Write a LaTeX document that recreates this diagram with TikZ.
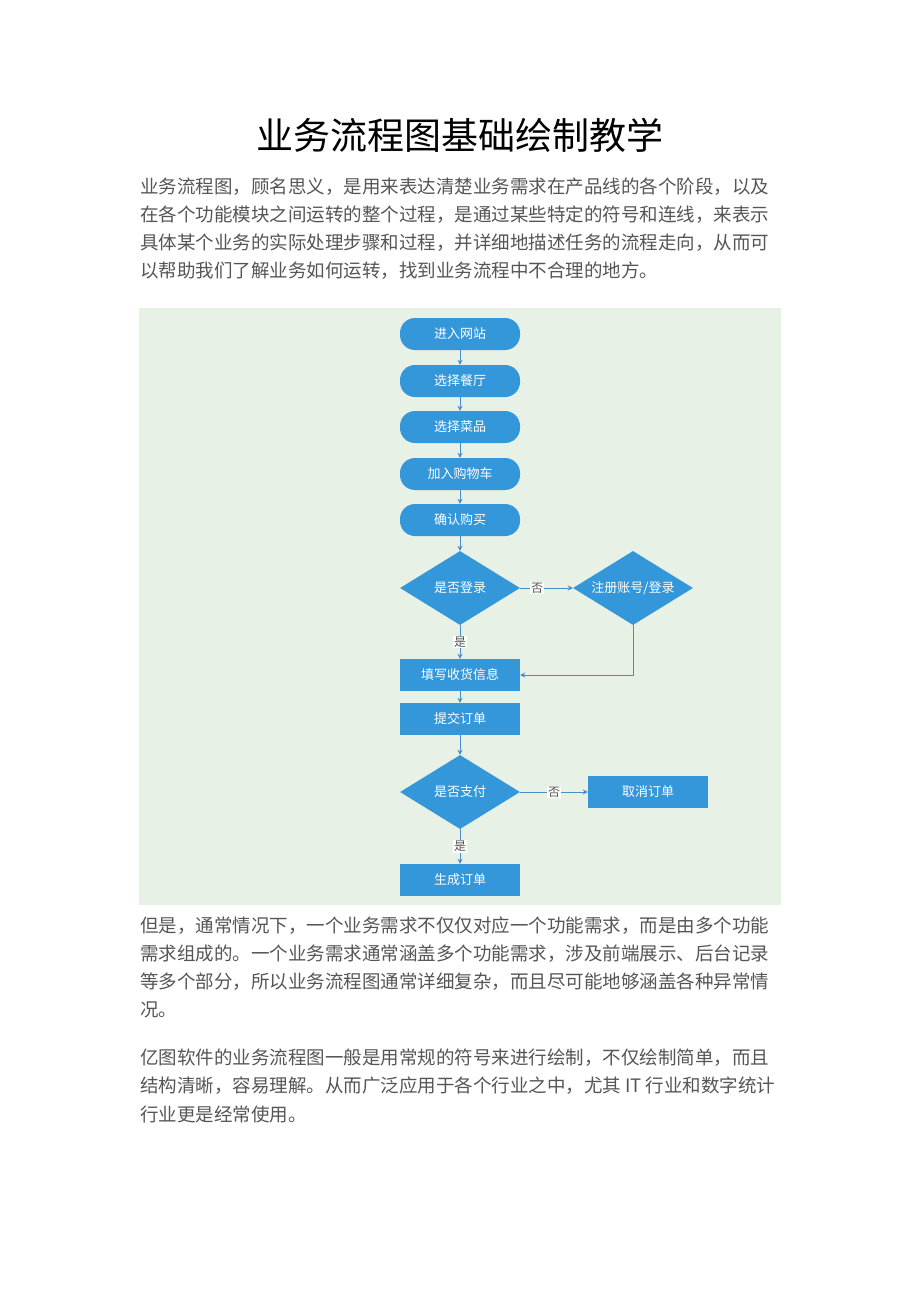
\documentclass[tikz,border=0pt]{standalone}
\usepackage{fontspec}
\setmainfont{Noto Sans CJK SC}
\usetikzlibrary{shapes.geometric,arrows.meta}
\definecolor{boxblue}{HTML}{3497DA}
\definecolor{linebl}{HTML}{4A8CC8}
\definecolor{bgg}{HTML}{E8F1E6}
\definecolor{txt}{HTML}{555555}
\tikzset{
 para/.style={anchor=west,inner sep=0pt,text=txt,font=\fontsize{18.5}{20}\selectfont},
 rbox/.style={rectangle,rounded corners=15pt,fill=boxblue,text=white,minimum width=120pt,minimum height=32pt,inner sep=0pt,font=\fontsize{13}{15}\selectfont},
 sbox/.style={rectangle,fill=boxblue,text=white,minimum width=120pt,minimum height=32pt,inner sep=0pt,font=\fontsize{13}{15}\selectfont},
 dbox/.style={diamond,fill=boxblue,text=white,minimum width=120pt,minimum height=74pt,inner sep=0pt,aspect=1.6,font=\fontsize{13}{15}\selectfont},
 arr/.style={draw=linebl,line width=0.8pt,-{Stealth[length=5pt,width=5pt]}},
 lbl/.style={fill=white,inner sep=1pt,text=txt,font=\fontsize{12}{14}\selectfont}
}
\begin{document}
\begin{tikzpicture}[x=1pt,y=-1pt]
\useasboundingbox (0,0) rectangle (920,1302);
\fill[white] (0,0) rectangle (920,1302);
\node[inner sep=0pt,font=\fontsize{37}{40}\selectfont] (title) at (460,135) {业务流程图基础绘制教学};
\node[para] (p1) at (140,187) {业务流程图，顾名思义，是用来表达清楚业务需求在产品线的各个阶段，以及};
\node[para] (p2) at (140,215) {在各个功能模块之间运转的整个过程，是通过某些特定的符号和连线，来表示};
\node[para] (p3) at (140,243) {具体某个业务的实际处理步骤和过程，并详细地描述任务的流程走向，从而可};
\node[para] (p4) at (140,271) {以帮助我们了解业务如何运转，找到业务流程中不合理的地方。};
\fill[bgg] (139,308) rectangle (781,905);
\node[rbox] (a) at (460,334) {进入网站};
\node[rbox] (b) at (460,381) {选择餐厅};
\node[rbox] (c) at (460,427) {选择菜品};
\node[rbox] (d) at (460,474) {加入购物车};
\node[rbox] (e) at (460,520) {确认购买};
\node[dbox] (f) at (460,588) {是否登录};
\node[dbox] (g) at (633,588) {注册账号/登录};
\node[sbox] (h) at (460,675) {填写收货信息};
\node[sbox] (i) at (460,719) {提交订单};
\node[dbox] (j) at (460,792) {是否支付};
\node[sbox] (k) at (648,792) {取消订单};
\node[sbox] (l) at (460,880) {生成订单};
\draw[arr] (a) -- (b);
\draw[arr] (b) -- (c);
\draw[arr] (c) -- (d);
\draw[arr] (d) -- (e);
\draw[arr] (e) -- (f);
\draw[arr] (f) -- node[lbl,pos=0.32] {否} (g);
\draw[arr] (f) -- node[lbl] {是} (h);
\draw[arr] (g.south) |- (h.east);
\draw[arr] (h) -- (i);
\draw[arr] (i) -- (j);
\draw[arr] (j) -- node[lbl,pos=0.5] {否} (k);
\draw[arr] (j) -- node[lbl] {是} (l);
\node[para] (q1) at (140,926) {但是，通常情况下，一个业务需求不仅仅对应一个功能需求，而是由多个功能};
\node[para] (q2) at (140,954) {需求组成的。一个业务需求通常涵盖多个功能需求，涉及前端展示、后台记录};
\node[para] (q3) at (140,982) {等多个部分，所以业务流程图通常详细复杂，而且尽可能地够涵盖各种异常情};
\node[para] (q4) at (140,1010) {况。};
\node[para] (r1) at (140,1058) {亿图软件的业务流程图一般是用常规的符号来进行绘制，不仅绘制简单，而且};
\node[para] (r2) at (140,1086) {结构清晰，容易理解。从而广泛应用于各个行业之中，尤其 IT 行业和数字统计};
\node[para] (r3) at (140,1114) {行业更是经常使用。};
\end{tikzpicture}
\end{document}
